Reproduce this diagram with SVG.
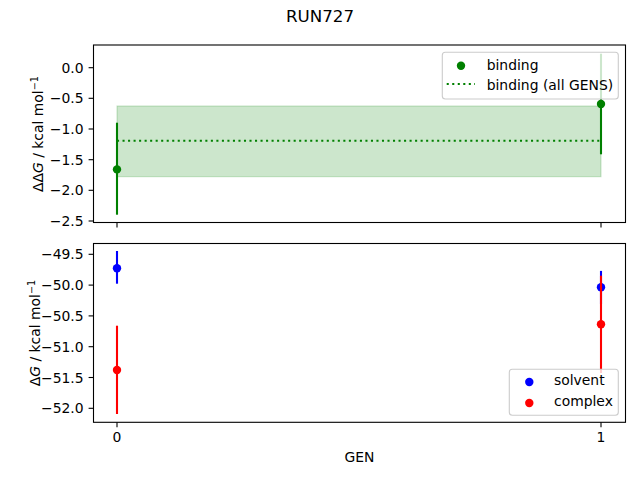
<svg xmlns="http://www.w3.org/2000/svg" width="640" height="480" viewBox="0 0 640 480">
<style>
text{font-family:"DejaVu Sans",sans-serif;font-size:13.9px;fill:#000}
.tick{stroke:#000;stroke-width:1.1}
.spine{fill:none;stroke:#000;stroke-width:1.1}
.eg{stroke:#008000;stroke-width:2.1}
.eb{stroke:#0000ff;stroke-width:2.1}
.er{stroke:#ff0000;stroke-width:2.1}
.leg{fill:#fff;fill-opacity:0.8;stroke:#cccccc;stroke-width:1.1}
</style>
<rect width="640" height="480" fill="#fff"/>
<text x="320" y="22" text-anchor="middle" style="font-size:16.7px">RUN727</text>

<g id="top-axes">
  <rect x="93.5" y="45" width="532" height="177.5" fill="#fff"/>
  <g id="band">
    <rect x="117" y="106" width="484" height="70.7" fill="#008000" fill-opacity="0.2" stroke="#008000" stroke-opacity="0.2" stroke-width="1.1"/>
  </g>
  <line id="mean-line" x1="117" y1="140.7" x2="601" y2="140.7" stroke="#008000" stroke-width="2.1" stroke-dasharray="2.08 3.44"/>
  <g id="binding-points">
    <line class="eg" x1="117" y1="122.7" x2="117" y2="214.7"/>
    <circle cx="117" cy="169.4" r="4.2" fill="#008000"/>
    <line class="eg" x1="601" y1="53.7" x2="601" y2="154.3"/>
    <circle cx="601" cy="104" r="4.2" fill="#008000"/>
  </g>
  <rect class="spine" x="93.5" y="45" width="532" height="177.5"/>
  <g id="top-yticks">
    <line class="tick" x1="88.6" y1="67.7" x2="93.5" y2="67.7"/>
    <line class="tick" x1="88.6" y1="98.3" x2="93.5" y2="98.3"/>
    <line class="tick" x1="88.6" y1="129" x2="93.5" y2="129"/>
    <line class="tick" x1="88.6" y1="159.7" x2="93.5" y2="159.7"/>
    <line class="tick" x1="88.6" y1="190.3" x2="93.5" y2="190.3"/>
    <line class="tick" x1="88.6" y1="221" x2="93.5" y2="221"/>
    <text x="83.6" y="72.7" text-anchor="end">0.0</text>
    <text x="83.6" y="103.3" text-anchor="end">−0.5</text>
    <text x="83.6" y="134" text-anchor="end">−1.0</text>
    <text x="83.6" y="164.7" text-anchor="end">−1.5</text>
    <text x="83.6" y="195.3" text-anchor="end">−2.0</text>
    <text x="83.6" y="226" text-anchor="end">−2.5</text>
  </g>
  <line class="tick" x1="117" y1="222.5" x2="117" y2="227.4"/>
  <line class="tick" x1="601" y1="222.5" x2="601" y2="227.4"/>
  <text transform="translate(42.5,134) rotate(-90)" text-anchor="middle">ΔΔ<tspan style="font-style:italic">G</tspan> / kcal mol<tspan dy="-5" style="font-size:9.7px">−1</tspan></text>
  <g id="top-legend">
    <rect class="leg" x="442.3" y="52.3" width="176" height="46.7" rx="3"/>
    <circle cx="461" cy="65.7" r="4.2" fill="#008000"/>
    <text x="486.7" y="69.5">binding</text>
    <line x1="446.7" y1="84" x2="475" y2="84" stroke="#008000" stroke-width="2.1" stroke-dasharray="2.08 3.44"/>
    <text x="486.7" y="89.5">binding (all GENS)</text>
  </g>
</g>

<g id="bottom-axes">
  <rect x="93.5" y="243.5" width="532" height="178.8" fill="#fff"/>
  <g id="solvent-points">
    <line class="eb" x1="117" y1="251" x2="117" y2="283.7"/>
    <circle cx="117" cy="268.3" r="4.2" fill="#0000ff"/>
    <line class="eb" x1="601" y1="270.9" x2="601" y2="304"/>
    <circle cx="601" cy="287.3" r="4.2" fill="#0000ff"/>
  </g>
  <g id="complex-points">
    <line class="er" x1="117" y1="325.7" x2="117" y2="414"/>
    <circle cx="117" cy="370" r="4.2" fill="#ff0000"/>
    <line class="er" x1="601" y1="275.7" x2="601" y2="373"/>
    <circle cx="601" cy="324.3" r="4.2" fill="#ff0000"/>
  </g>
  <rect class="spine" x="93.5" y="243.5" width="532" height="178.8"/>
  <g id="bottom-yticks">
    <line class="tick" x1="88.6" y1="254.3" x2="93.5" y2="254.3"/>
    <line class="tick" x1="88.6" y1="285.1" x2="93.5" y2="285.1"/>
    <line class="tick" x1="88.6" y1="315.9" x2="93.5" y2="315.9"/>
    <line class="tick" x1="88.6" y1="346.7" x2="93.5" y2="346.7"/>
    <line class="tick" x1="88.6" y1="377.5" x2="93.5" y2="377.5"/>
    <line class="tick" x1="88.6" y1="408.3" x2="93.5" y2="408.3"/>
    <text x="83.6" y="259.3" text-anchor="end">−49.5</text>
    <text x="83.6" y="290.1" text-anchor="end">−50.0</text>
    <text x="83.6" y="320.9" text-anchor="end">−50.5</text>
    <text x="83.6" y="351.7" text-anchor="end">−51.0</text>
    <text x="83.6" y="382.5" text-anchor="end">−51.5</text>
    <text x="83.6" y="413.3" text-anchor="end">−52.0</text>
  </g>
  <line class="tick" x1="117" y1="422.3" x2="117" y2="427.2"/>
  <line class="tick" x1="601" y1="422.3" x2="601" y2="427.2"/>
  <text x="117" y="442" text-anchor="middle">0</text>
  <text x="601" y="442" text-anchor="middle">1</text>
  <text x="359.5" y="461.7" text-anchor="middle">GEN</text>
  <text transform="translate(40,333) rotate(-90)" text-anchor="middle">Δ<tspan style="font-style:italic">G</tspan> / kcal mol<tspan dy="-5" style="font-size:9.7px">−1</tspan></text>
  <g id="bottom-legend">
    <rect class="leg" x="509.3" y="369.3" width="109" height="46" rx="3"/>
    <circle cx="529.3" cy="382" r="4.2" fill="#0000ff"/>
    <text x="554" y="385.3">solvent</text>
    <circle cx="529.3" cy="403" r="4.2" fill="#ff0000"/>
    <text x="554" y="406">complex</text>
  </g>
</g>
</svg>
